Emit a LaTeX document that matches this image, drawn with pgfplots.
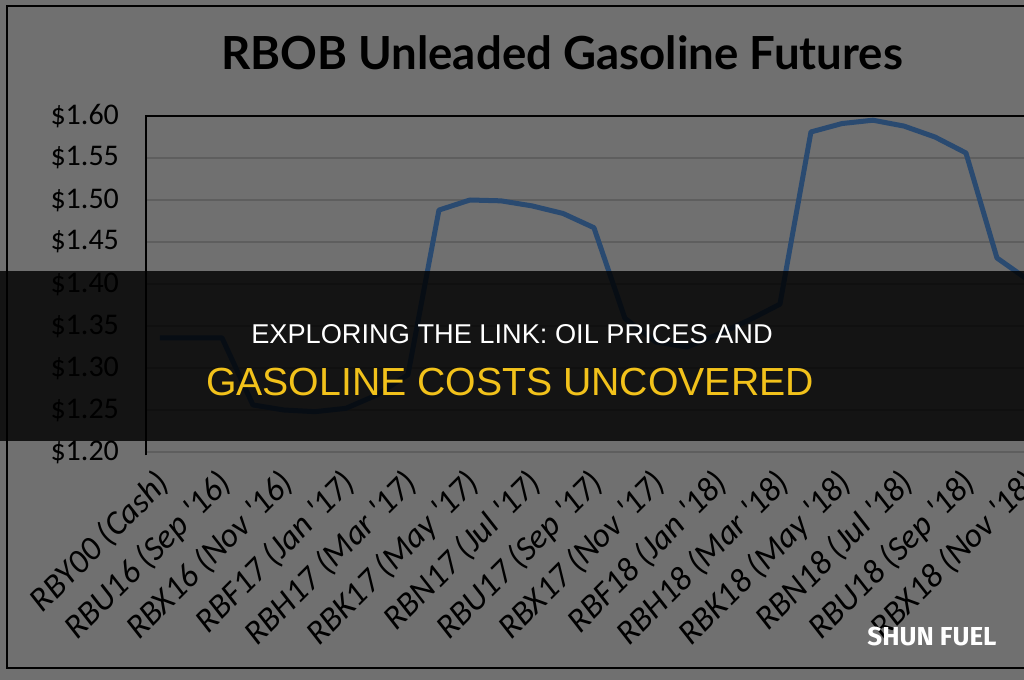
\documentclass[border=0pt]{standalone}
\usepackage{fontspec}
\setmainfont{Lato}
\newfontfamily\tickfont{Carlito}
\newfontfamily\bannerfont{Liberation Sans}
\newfontfamily\wmfont{Fira Sans}
\usepackage{pgfplots}
\pgfplotsset{compat=1.18}
\definecolor{bg}{HTML}{707070}
\definecolor{gridc}{HTML}{5E5E5E}
\definecolor{linec}{HTML}{2A4A70}
\definecolor{bannery}{HTML}{F2C21B}
\pgfplotstableread{
idx price
0 1.336
1 1.336
2 1.336
3 1.256
4 1.250
5 1.248
6 1.252
7 1.268
8 1.292
9 1.488
10 1.500
11 1.499
12 1.493
13 1.484
14 1.467
15 1.359
16 1.331
17 1.325
18 1.340
19 1.357
20 1.376
21 1.581
22 1.591
23 1.595
24 1.588
25 1.575
26 1.556
27 1.431
28 1.405
}\pricedata
\begin{document}
\begin{tikzpicture}[x=0.5pt,y=0.5pt]
\clip (0,0) rectangle (1024,680);
\fill[bg] (0,0) rectangle (1024,680);
\draw[black, line width=1.1pt] (1040,674) -- (7,674) -- (7,12) -- (1040,12);
\node[font=\bfseries\fontsize{22.8}{26}\selectfont, text=black] at (562,627) {RBOB Unleaded Gasoline Futures};
\begin{axis}[
  at={(73pt,114pt)}, anchor=south west,
  scale only axis, width=456.475pt, height=168pt,
  xmin=-0.45, xmax=29, ymin=1.2, ymax=1.6,
  axis line style={draw=none},
  ymajorgrids, grid style={gridc, line width=0.8pt},
  major tick length=0pt,
  ytick={1.20,1.25,1.30,1.35,1.40,1.45,1.50,1.55,1.60},
  yticklabels={\$1.20,\$1.25,\$1.30,\$1.35,\$1.40,\$1.45,\$1.50,\$1.55,\$1.60},
  yticklabel style={font=\tickfont\fontsize{15}{17}\selectfont, text=black, xshift=-10pt},
  xtick={0,2,4,6,8,10,12,14,16,18,20,22,24,26,28},
  xticklabels={RBY00 (Cash),RBU16 (Sep '16),RBX16 (Nov '16),RBF17 (Jan '17),RBH17 (Mar '17),RBK17 (May '17),RBN17 (Jul '17),RBU17 (Sep '17),RBX17 (Nov '17),RBF18 (Jan '18),RBH18 (Mar '18),RBK18 (May '18),RBN18 (Jul '18),RBU18 (Sep '18),RBX18 (Nov '18)},
  xticklabel style={font=\tickfont\itshape\fontsize{17}{19}\selectfont, text=black, rotate=45, anchor=north east, inner sep=1pt, xshift=-6.5pt, yshift=-2pt},
  clip=false,
]
\addplot[linec, line width=2.5pt, line join=round] table[x=idx, y=price] {\pricedata};
\draw[black, line width=0.8pt] (rel axis cs:0,-0.01) -- (rel axis cs:0,1) -- (rel axis cs:1.2,1);
\end{axis}
\fill[black, opacity=0.82] (0,409) rectangle (1024,239);
\node[text=white, font=\bannerfont\fontsize{13.6}{15}\selectfont] at (512,346) {EXPLORING THE LINK: OIL PRICES AND};
\node[text=bannery, font=\bannerfont\fontsize{19.6}{22}\selectfont] at (510,298) {GASOLINE COSTS UNCOVERED};
\node[text=white, font=\wmfont\bfseries\fontsize{13}{14}\selectfont] at (932,44) {SHUN FUEL};
\end{tikzpicture}
\end{document}
